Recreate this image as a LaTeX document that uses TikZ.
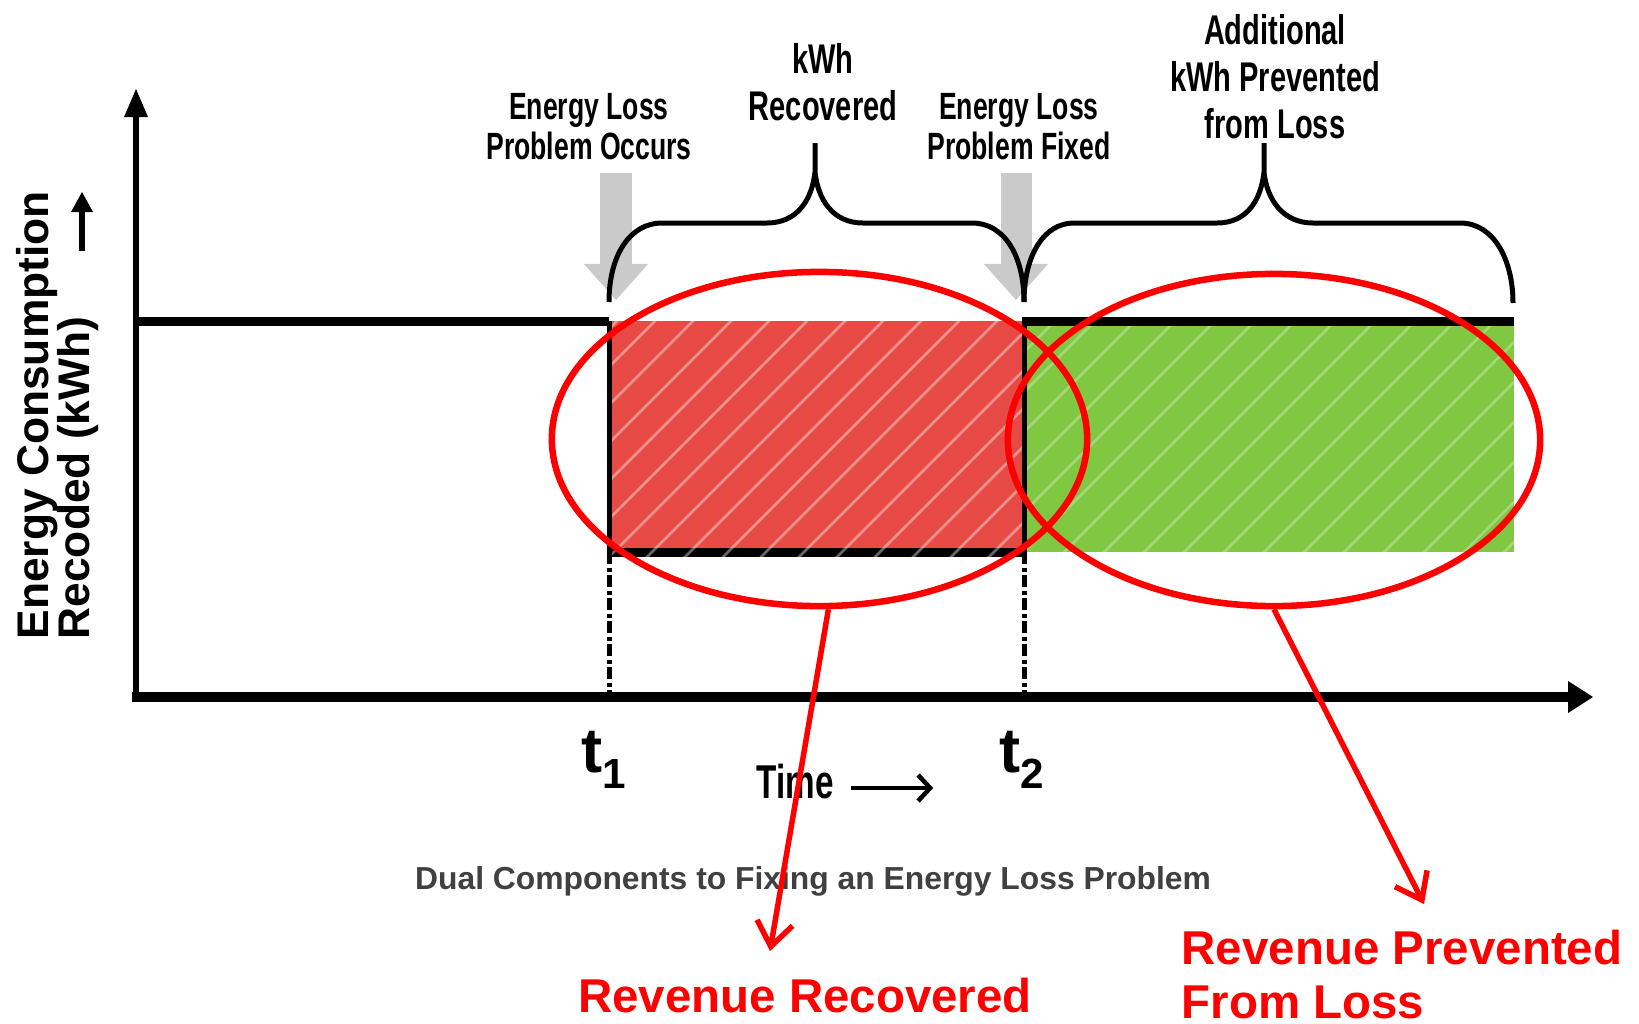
\documentclass[tikz,border=0pt]{standalone}
\usepackage{fontspec}
\setmainfont{Liberation Sans}
\newfontfamily\condfont[FakeStretch=0.7]{Liberation Sans}
\usetikzlibrary{arrows.meta,shapes.geometric}

\definecolor{lossred}{RGB}{231,74,68}
\definecolor{savegreen}{RGB}{128,199,66}
\definecolor{capgray}{RGB}{64,64,64}
\definecolor{markgray}{RGB}{202,202,202}

\begin{document}
\begin{tikzpicture}[
    x=0.01cm, y=-0.01cm,
    axisline/.style={line width=0.065cm},
    level/.style={line width=0.09cm},
    boxedge/.style={line width=0.05cm},
    drop/.style={line width=0.05cm, dash pattern=on 0.12cm off 0.035cm on 0.04cm off 0.035cm},
    hatch/.style={white, opacity=0.4, line width=0.025cm},
    brace/.style={line width=0.05cm, line join=round},
    event/.style={line width=0.31cm, markgray, -{Triangle[width=0.64cm,length=0.36cm,line width=0pt]}},
    ring/.style={ellipse, draw=red, line width=0.065cm, inner sep=0pt},
    pointer/.style={red, line width=0.055cm, -{Straight Barb[length=0.24cm,width=0.36cm]}},
    tag/.style={font=\condfont\bfseries\fontsize{10.8}{11.4}\selectfont, inner sep=0pt},
    bigtag/.style={font=\condfont\bfseries\fontsize{11.8}{13.4}\selectfont, inner sep=0pt},
    ylab/.style={font=\bfseries\fontsize{12.6}{14}\selectfont, rotate=90, anchor=base west, inner sep=0pt},
    tlab/.style={font=\bfseries\fontsize{18}{18}\selectfont, anchor=base, inner sep=0pt},
    result/.style={font=\bfseries\fontsize{13.5}{15.4}\selectfont, text=red, inner sep=0pt},
    every node/.style={align=center}
]
\useasboundingbox (0,0) rectangle (1639,1024);

% Loss and prevented areas
\fill[lossred] (609,321) rectangle (1024,552);
\fill[savegreen] (1024,325) rectangle (1514,552);
\draw[level] (609,552) -- (1024,552);

\begin{scope}
\clip (609,321) rectangle (1024,558);
\foreach \hx in {340,378,...,1030}
  \draw[hatch] (\hx,560) -- ++(260,-260);
\end{scope}
\begin{scope}
\clip (1024,325) rectangle (1514,552);
\foreach \hx in {780,820,...,1520}
  \draw[hatch, opacity=0.3] (\hx,556) -- ++(260,-260);
\end{scope}

% Consumption levels
\draw[level] (136,321) -- (609,321);
\draw[level] (1022,321) -- (1514,321);
\draw[boxedge] (609,321) -- (609,552);
\draw[boxedge] (1024,318) -- (1024,552);
\draw[drop] (609,552) -- (609,697);
\draw[drop] (1024,552) -- (1024,697);

% Axes
\draw[axisline, -{Triangle[width=0.24cm,length=0.28cm,line width=0pt]}] (136,700) -- (136,89);
\draw[axisline, line width=0.1cm, -{Triangle[width=0.32cm,length=0.25cm,line width=0pt]}] (132,697) -- (1593,697);

% Labels
\node[tag] (occurs) at (589,127) {Energy Loss\\Problem Occurs};
\node[bigtag] (recovered) at (823,82) {kWh\\Recovered};
\node[tag] (fixed) at (1019,127) {Energy Loss\\Problem Fixed};
\node[bigtag] (prevented) at (1275,77) {Additional\\kWh Prevented\\from Loss};

\node[ylab] (ylabA) at (48,640) {Energy Consumption};
\node[ylab] (ylabB) at (89,640) {Recoded (kWh)};
\draw[line width=0.055cm, -{Triangle[width=0.22cm,length=0.2cm,line width=0pt]}] (82,251) -- (82,192);

\node[tlab] (t1) at (604,772) {t\raisebox{-0.16cm}{\fontsize{12}{12}\selectfont 1}};
\node[tlab] (t2) at (1022,772) {t\raisebox{-0.16cm}{\fontsize{12}{12}\selectfont 2}};
\node[font=\condfont\bfseries\fontsize{13.5}{14}\selectfont, anchor=base, inner sep=0pt] (timelab) at (795,798) {Time};
\draw[line width=0.045cm, -{Straight Barb[length=0.12cm,width=0.26cm]}] ([xshift=0.17cm,yshift=0.1cm]timelab.base east) -- ++(82,0);

\node[font=\bfseries\fontsize{9.05}{10}\selectfont, text=capgray, inner sep=0pt] (caption) at (813,881) {Dual Components to Fixing an Energy Loss Problem};

% Event markers and braces
\coordinate (occTip) at (616,300);
\coordinate (fixTip) at (1016,300);
\draw[event, shorten <=0.12cm] (occurs.south -| occTip) -- (occTip);
\draw[event, shorten <=0.12cm] (fixed.south -| fixTip) -- (fixTip);

\draw[brace] (609,302) .. controls (609,255) and (630,223) .. (662,223) -- (767,223)
  .. controls (797,223) and (812,200) .. (815,172) -- (815,143)
  (815,172) .. controls (818,200) and (833,223) .. (863,223) -- (972,223)
  .. controls (1004,223) and (1024,255) .. (1024,302);
\draw[brace] (1024,302) .. controls (1024,255) and (1044,223) .. (1074,223) -- (1217,223)
  .. controls (1247,223) and (1261,200) .. (1264,172) -- (1264,143)
  (1264,172) .. controls (1267,200) and (1283,223) .. (1313,223) -- (1460,223)
  .. controls (1494,223) and (1513,260) .. (1513,303);

% Revenue callouts
\node[ring, minimum width=5.35cm, minimum height=3.34cm] (ellRec) at (819.5,439) {};
\node[ring, minimum width=5.32cm, minimum height=3.32cm] (ellPrev) at (1274,440) {};

\node[result, anchor=base] (revRec) at (805,1012) {Revenue Recovered};
\node[result, anchor=north west, align=left] (revPrev) at (1181,929) {Revenue Prevented\\From Loss};

\coordinate (recTip) at (770,951);
\coordinate (prevTip) at (1424,904);
\draw[pointer] (ellRec.-87) -- (recTip);
\draw[pointer] (ellPrev.south) -- (prevTip);

\end{tikzpicture}
\end{document}
